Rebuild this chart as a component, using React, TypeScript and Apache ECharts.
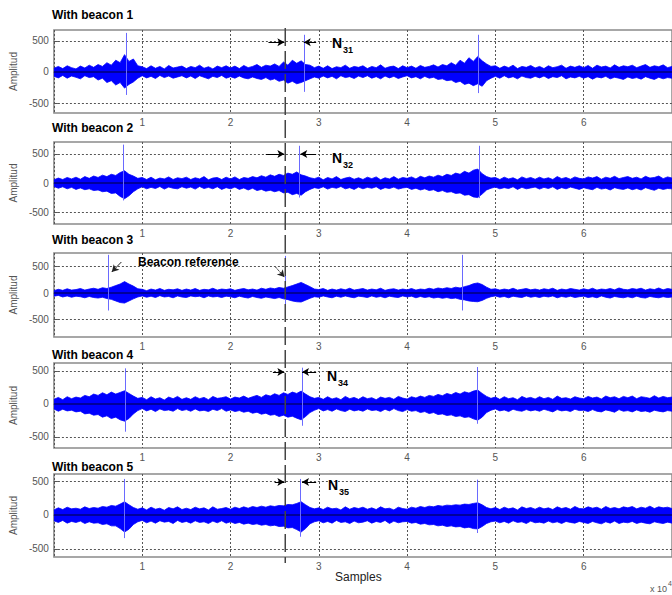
import React, { useEffect, useRef } from 'react';
import * as echarts from 'echarts';

// Envelope of each recorded signal, read every 500 samples (0 .. 70000)
const STEP = 500;

const U1 = [
  60, 90, 55, 100, 70, 50, 95, 65, 110, 75,
  120, 90, 150, 110, 190, 150, 280, 170, 210, 100,
  85, 55, 100, 60, 90, 50, 105, 65, 80, 95,
  55, 90, 70, 110, 60, 85, 50, 95, 70, 100,
  65, 95, 55, 105, 70, 90, 120, 75, 110, 95,
  130, 90, 160, 110, 190, 140, 180, 120, 110, 70,
  95, 60, 100, 55, 85, 70, 110, 60, 90, 75,
  100, 55, 90, 70, 115, 60, 85, 95, 55, 100,
  70, 95, 60, 105, 75, 90, 115, 80, 120, 100,
  150, 110, 190, 140, 230, 170, 250, 180, 130, 90,
  100, 60, 95, 70, 110, 55, 90, 75, 105, 65,
  90, 55, 100, 70, 85, 110, 60, 95, 75, 100,
  70, 105, 60, 110, 80, 95, 65, 115, 75, 100,
  85, 110, 70, 95, 120, 75, 100, 85, 115, 70, 90,
];
const L1 = [
  -70, -95, -55, -100, -65, -85, -110, -60, -90, -75,
  -130, -100, -170, -140, -210, -170, -260, -200, -160, -100,
  -60, -95, -70, -105, -55, -90, -65, -100, -80, -60,
  -95, -65, -105, -60, -85, -110, -70, -90, -55, -100,
  -75, -100, -65, -95, -110, -80, -105, -120, -90, -130,
  -110, -150, -130, -180, -150, -190, -170, -140, -110, -80,
  -100, -65, -95, -70, -110, -60, -90, -75, -105, -65,
  -90, -60, -100, -75, -110, -65, -95, -70, -105, -80,
  -60, -95, -75, -110, -70, -100, -85, -120, -110, -140,
  -130, -170, -150, -200, -180, -220, -190, -230, -140, -100,
  -70, -100, -60, -95, -75, -110, -65, -90, -100, -70,
  -95, -65, -105, -75, -90, -60, -110, -80, -95, -70,
  -100, -75, -115, -80, -95, -70, -110, -85, -100, -120,
  -80, -105, -90, -115, -75, -100, -120, -85, -110, -90, -100,
];

const U2 = [
  55, 85, 60, 95, 70, 100, 65, 110, 80, 120,
  95, 135, 110, 150, 130, 180, 210, 150, 120, 80,
  95, 60, 100, 55, 85, 70, 105, 60, 90, 75,
  100, 60, 90, 70, 110, 55, 85, 95, 60, 100,
  70, 105, 60, 95, 80, 110, 90, 125, 100, 140,
  115, 150, 130, 170, 150, 190, 140, 120, 90, 75,
  100, 55, 95, 70, 110, 60, 85, 100, 65, 90,
  60, 100, 75, 105, 55, 90, 70, 110, 65, 95,
  80, 105, 70, 115, 90, 120, 100, 135, 110, 150,
  130, 170, 150, 200, 170, 220, 240, 160, 110, 85,
  95, 60, 100, 70, 90, 55, 105, 75, 95, 65,
  100, 70, 90, 60, 110, 75, 95, 65, 105, 80,
  70, 105, 85, 110, 65, 100, 80, 115, 75, 95,
  110, 80, 100, 70, 115, 85, 95, 120, 75, 105, 85,
];
const L2 = [
  -60, -90, -65, -100, -75, -110, -85, -115, -100, -130,
  -120, -150, -140, -180, -170, -230, -270, -220, -150, -100,
  -65, -100, -75, -95, -60, -105, -70, -90, -100, -65,
  -90, -70, -105, -60, -95, -75, -100, -65, -110, -80,
  -100, -70, -110, -85, -120, -90, -130, -110, -140, -125,
  -150, -130, -170, -160, -200, -180, -210, -150, -110, -80,
  -95, -65, -105, -75, -90, -60, -100, -80, -110, -70,
  -100, -75, -90, -65, -110, -80, -95, -70, -105, -85,
  -75, -110, -90, -120, -100, -130, -115, -150, -130, -160,
  -150, -180, -170, -210, -200, -240, -250, -190, -120, -90,
  -70, -100, -80, -95, -65, -110, -75, -100, -85, -70,
  -105, -75, -95, -65, -110, -80, -100, -70, -90, -110,
  -80, -100, -115, -75, -105, -90, -120, -80, -100, -110,
  -85, -115, -95, -120, -80, -105, -125, -90, -110, -95, -100,
];

const U3 = [
  45, 70, 50, 80, 55, 65, 85, 55, 75, 90,
  70, 100, 85, 110, 140, 170, 215, 170, 130, 80,
  70, 45, 75, 55, 85, 50, 70, 60, 80, 50,
  75, 55, 85, 50, 70, 60, 90, 55, 75, 65,
  80, 50, 70, 85, 60, 75, 55, 90, 70, 95,
  80, 105, 90, 115, 140, 170, 200, 160, 120, 75,
  65, 85, 50, 75, 55, 80, 60, 90, 55, 70,
  85, 55, 75, 60, 90, 50, 70, 80, 55, 75,
  60, 85, 55, 75, 65, 90, 70, 95, 80, 100,
  85, 110, 95, 120, 140, 175, 190, 160, 110, 70,
  80, 55, 75, 60, 90, 55, 70, 85, 60, 75,
  55, 80, 65, 90, 50, 75, 60, 85, 70, 55,
  80, 60, 90, 55, 75, 65, 85, 60, 95, 70,
  60, 85, 70, 90, 55, 80, 65, 95, 60, 85, 70,
];
const L3 = [
  -60, -45, -75, -55, -80, -60, -70, -90, -65, -85,
  -95, -80, -105, -120, -150, -180, -190, -150, -110, -75,
  -55, -80, -60, -85, -50, -75, -65, -90, -55, -75,
  -85, -55, -70, -60, -90, -55, -75, -65, -85, -60,
  -70, -90, -60, -80, -95, -65, -85, -100, -75, -90,
  -105, -85, -110, -125, -150, -165, -170, -135, -100, -70,
  -80, -55, -75, -90, -60, -80, -55, -75, -90, -60,
  -70, -85, -55, -80, -65, -90, -60, -75, -85, -55,
  -75, -60, -90, -65, -85, -70, -95, -80, -100, -85,
  -105, -95, -120, -130, -150, -160, -165, -140, -100, -70,
  -55, -80, -65, -90, -60, -75, -85, -55, -80, -65,
  -85, -60, -75, -55, -90, -65, -80, -60, -85, -70,
  -60, -85, -70, -90, -55, -80, -95, -65, -80, -90,
  -70, -90, -60, -85, -95, -65, -80, -90, -70, -85, -75,
];

const U4 = [
  70, 100, 65, 110, 80, 105, 90, 130, 110, 150,
  130, 170, 140, 180, 150, 175, 200, 160, 120, 85,
  100, 65, 110, 75, 95, 60, 105, 80, 115, 70,
  95, 70, 110, 80, 100, 65, 115, 85, 95, 110,
  75, 105, 90, 120, 85, 110, 130, 100, 140, 120,
  155, 130, 170, 145, 180, 160, 195, 150, 110, 85,
  100, 70, 110, 75, 95, 65, 115, 80, 100, 70,
  110, 80, 95, 65, 105, 85, 100, 70, 115, 90,
  75, 110, 90, 120, 100, 130, 115, 145, 125, 160,
  140, 175, 150, 185, 165, 195, 210, 160, 115, 85,
  105, 70, 110, 80, 95, 65, 115, 85, 100, 75,
  110, 80, 100, 70, 120, 85, 95, 75, 110, 90,
  80, 115, 90, 105, 75, 120, 95, 110, 80, 115,
  95, 120, 80, 110, 100, 85, 125, 90, 115, 95, 105,
];
const L4 = [
  -75, -110, -80, -105, -95, -120, -110, -150, -140, -170,
  -160, -200, -180, -220, -200, -240, -260, -220, -150, -100,
  -70, -105, -80, -115, -75, -100, -90, -110, -70, -100,
  -85, -110, -75, -105, -95, -115, -80, -100, -70, -110,
  -90, -115, -100, -125, -110, -140, -125, -155, -140, -170,
  -160, -190, -170, -200, -185, -215, -240, -190, -130, -95,
  -70, -105, -85, -110, -75, -100, -115, -80, -105, -90,
  -110, -75, -100, -90, -115, -80, -105, -70, -100, -115,
  -85, -110, -100, -130, -115, -145, -130, -160, -150, -175,
  -165, -190, -180, -205, -195, -225, -245, -200, -130, -95,
  -75, -105, -90, -115, -80, -100, -110, -85, -105, -90,
  -110, -80, -100, -120, -85, -105, -95, -115, -80, -100,
  -95, -115, -85, -110, -120, -90, -105, -125, -85, -110,
  -100, -120, -90, -115, -105, -125, -95, -110, -120, -100, -110,
];

const U5 = [
  75, 105, 80, 115, 90, 100, 85, 120, 95, 110,
  100, 125, 115, 140, 130, 160, 195, 150, 110, 85,
  105, 75, 115, 85, 100, 70, 110, 90, 120, 80,
  100, 80, 115, 90, 105, 75, 120, 85, 95, 110,
  85, 115, 95, 120, 100, 125, 110, 130, 115, 135,
  125, 140, 135, 155, 150, 170, 195, 150, 110, 90,
  105, 80, 115, 90, 100, 75, 120, 85, 110, 95,
  115, 85, 105, 80, 120, 90, 100, 75, 115, 95,
  85, 115, 100, 125, 110, 130, 120, 140, 130, 145,
  140, 150, 145, 160, 155, 170, 180, 150, 110, 90,
  110, 80, 115, 90, 105, 75, 120, 95, 110, 85,
  115, 90, 105, 80, 120, 95, 110, 85, 125, 95,
  90, 120, 100, 115, 85, 125, 95, 110, 90, 120,
  105, 125, 90, 115, 100, 130, 95, 120, 105, 115, 95,
];
const L5 = [
  -85, -110, -80, -120, -95, -110, -90, -125, -100, -120,
  -115, -140, -130, -160, -160, -200, -250, -210, -140, -100,
  -80, -115, -90, -120, -85, -105, -95, -125, -80, -110,
  -95, -120, -85, -110, -100, -125, -90, -115, -85, -120,
  -100, -125, -110, -135, -120, -140, -130, -150, -140, -160,
  -150, -170, -165, -190, -185, -215, -250, -200, -130, -100,
  -85, -115, -95, -120, -80, -110, -100, -125, -90, -115,
  -105, -85, -120, -95, -110, -80, -125, -90, -115, -100,
  -95, -120, -110, -135, -125, -145, -140, -160, -150, -170,
  -160, -175, -170, -190, -180, -200, -205, -170, -125, -100,
  -90, -115, -95, -120, -85, -110, -100, -125, -90, -115,
  -105, -120, -90, -115, -100, -125, -95, -110, -120, -95,
  -110, -125, -95, -115, -130, -100, -120, -90, -125, -105,
  -115, -95, -125, -105, -120, -130, -100, -115, -125, -105, -120,
];

const UPPER = [U1, U2, U3, U4, U5];
const LOWER = [L1, L2, L3, L4, L5];

// Beacon spikes: [sample, top, bottom]
const SPIKES = [
  [[8200, 630, -370], [28300, 600, -320], [48100, 600, -340]],
  [[7900, 660, -300], [27800, 640, -250], [48200, 640, -260]],
  [[6200, 720, -330], [26200, 700, -320], [46200, 720, -330]],
  [[8100, 540, -420], [28100, 550, -330], [47900, 560, -300]],
  [[8000, 530, -340], [27900, 530, -320], [48000, 520, -265]],
];

const TITLES = ['With beacon 1', 'With beacon 2', 'With beacon 3', 'With beacon 4', 'With beacon 5'];
const Y_RANGES = [[-661, 677], [-705, 705], [-830, 755], [-667, 621], [-618, 603]];
const Y_TICKS = [-500, 0, 500];
const X_TICKS = [10000, 20000, 30000, 40000, 50000, 60000];
const X_MAX = 70000;

// Delay annotations N3k
const REF_SAMPLE = 26200;
const N_LABELS = ['31', '32', null, '34', '35'];
const ARROW_Y = [480, 500, null, 485, 485];
const ARROW_LEFT_FROM = [24300, 24000, null, 24800, 25000];
const ARROW_TIP = 26100;
const ARROW_RIGHT_FROM = 29700;
const ARROW_RIGHT_TIP = [28300, 27900, null, 28100, 28100];
// Beacon reference pointers in panel 3: [[x1,y1],[x2,y2]]
const BEACON_ARROWS = [[[7640, 585], [6550, 396]], [[25100, 490], [26100, 300]]];

const GRID_TOPS = [30, 142, 253, 363, 474];
const GRID_HEIGHTS = [83, 82, 84, 85, 83];
const TITLE_Y = [15, 128, 240, 355, 467];
const N_POS = [[332, 43], [332, 158], null, [327, 376], [328, 485]];
const FONT = 'Liberation Sans, Arial, sans-serif';
const BLUE = '#0000ff';

export default function App() {
  const ref = useRef<HTMLDivElement>(null);
  useEffect(() => {
    document.body.style.margin = '0';
    const chart = echarts.init(ref.current!, null, { renderer: 'svg' });
    const grids: any[] = [];
    const xAxes: any[] = [];
    const yAxes: any[] = [];
    const series: any[] = [];
    for (let k = 0; k < 5; k++) {
      grids.push({
        left: 50, top: GRID_TOPS[k], width: 641, height: GRID_HEIGHTS[k],
        show: true, borderColor: '#8a8a8a', borderWidth: 1.5, backgroundColor: '#fff',
      });
      xAxes.push({
        type: 'value', gridIndex: k, min: 0, max: X_MAX, interval: 10000,
        axisLine: { show: false },
        axisTick: { show: true, inside: true, length: 4, lineStyle: { color: '#555' } },
        axisLabel: {
          customValues: X_TICKS, formatter: (v: number) => String(v / 10000),
          color: '#555', fontSize: 10, fontFamily: FONT, margin: 4,
        },
        splitLine: { show: true, lineStyle: { color: '#555', type: [2, 2], width: 1 } },
      });
      yAxes.push({
        type: 'value', gridIndex: k, min: Y_RANGES[k][0], max: Y_RANGES[k][1],
        name: 'Amplitud', nameLocation: 'middle', nameGap: 31,
        nameTextStyle: { color: '#555', fontSize: 10, fontFamily: FONT },
        axisLine: { show: false },
        axisTick: { show: true, inside: true, length: 4, customValues: Y_TICKS, lineStyle: { color: '#555' } },
        axisLabel: { customValues: Y_TICKS, color: '#555', fontSize: 10, fontFamily: FONT, margin: 5 },
        splitLine: { show: true, lineStyle: { color: '#555', type: [2, 2], width: 1 } },
      });
      const pts = (arr: number[]) => arr.map((v, i) => [i * STEP, v]);
      series.push({
        type: 'line', xAxisIndex: k, yAxisIndex: k, data: pts(UPPER[k]),
        symbol: 'none', silent: true, z: 2,
        lineStyle: { color: BLUE, width: 0.8 },
        areaStyle: { color: BLUE, opacity: 1 },
        markLine: {
          silent: true, symbol: 'none', label: { show: false },
          lineStyle: { color: '#00007a', width: 1.5, type: 'solid' },
          data: [{ yAxis: 0 }],
        },
      });
      const marks: any[] = [];
      SPIKES[k].forEach(([x, t, b]) => {
        marks.push([
          { coord: [x, b], symbol: 'none', lineStyle: { color: '#6a6aff', width: 1, type: 'solid' } },
          { coord: [x, t], symbol: 'none' },
        ]);
      });
      if (ARROW_Y[k] != null) {
        const y = ARROW_Y[k] as number;
        marks.push([
          { coord: [ARROW_LEFT_FROM[k], y], symbol: 'none', lineStyle: { color: '#000', width: 1, type: 'solid' } },
          { coord: [ARROW_TIP, y], symbol: 'arrow', symbolSize: [6, 7] },
        ]);
        marks.push([
          { coord: [ARROW_RIGHT_FROM, y], symbol: 'none', lineStyle: { color: '#000', width: 1, type: 'solid' } },
          { coord: [ARROW_RIGHT_TIP[k], y], symbol: 'arrow', symbolSize: [6, 7] },
        ]);
      }
      if (k === 2) {
        BEACON_ARROWS.forEach(([a, b], j) => {
          marks.push([
            { coord: a, symbol: 'none', lineStyle: { color: '#222', width: 1, type: j === 1 ? [2, 1] : 'solid' } },
            { coord: b, symbol: 'arrow', symbolSize: [6, 7] },
          ]);
        });
      }
      series.push({
        type: 'line', xAxisIndex: k, yAxisIndex: k, data: pts(LOWER[k]),
        symbol: 'none', silent: true, z: 2,
        lineStyle: { color: BLUE, width: 0.8 },
        areaStyle: { color: BLUE, opacity: 1 },
        markLine: { silent: true, label: { show: false }, animation: false, data: marks },
      });
    }
    chart.setOption({
      animation: false,
      grid: grids, xAxis: xAxes, yAxis: yAxes, series,
    });
    const refX = chart.convertToPixel({ gridIndex: 0 }, [REF_SAMPLE, 0])[0];
    const graphic: any[] = [];
    TITLES.forEach((t, k) => {
      graphic.push({
        type: 'text', x: 52, y: TITLE_Y[k], z: 10,
        style: { text: t, fontSize: 12, fontWeight: 'bold', fontFamily: FONT, fill: '#000', verticalAlign: 'middle', align: 'left' },
      });
      const np = N_POS[k];
      if (np && N_LABELS[k]) {
        graphic.push({
          type: 'text', x: np[0], y: np[1], z: 10,
          style: { text: 'N', fontSize: 14, fontWeight: 'bold', fontFamily: FONT, fill: '#000', verticalAlign: 'middle' },
        });
        graphic.push({
          type: 'text', x: np[0] + 11, y: np[1] + 7, z: 10,
          style: { text: N_LABELS[k], fontSize: 9, fontWeight: 'bold', fontFamily: FONT, fill: '#000', verticalAlign: 'middle' },
        });
      }
    });
    graphic.push({
      type: 'text', x: 138, y: 262, z: 10,
      style: { text: 'Beacon reference', fontSize: 12, fontWeight: 'bold', fontFamily: FONT, fill: '#000', verticalAlign: 'middle' },
    });
    graphic.push({
      type: 'line', z: 9, shape: { x1: refX, y1: 28, x2: refX, y2: 563 },
      style: { stroke: '#444', lineWidth: 1.5, lineDash: [18, 5] },
    });
    graphic.push({
      type: 'text', x: 335, y: 577, z: 10,
      style: { text: 'Samples', fontSize: 12, fontFamily: FONT, fill: '#222', verticalAlign: 'middle' },
    });
    graphic.push({
      type: 'text', x: 650, y: 589, z: 10,
      style: { text: 'x 10', fontSize: 9, fontFamily: FONT, fill: '#555', verticalAlign: 'middle' },
    });
    graphic.push({
      type: 'text', x: 668, y: 583, z: 10,
      style: { text: '4', fontSize: 7, fontFamily: FONT, fill: '#555', verticalAlign: 'middle' },
    });
    chart.setOption({ graphic });
    return () => chart.dispose();
  }, []);
  return <div ref={ref} style={{ width: 672, height: 595 }} />;
}
